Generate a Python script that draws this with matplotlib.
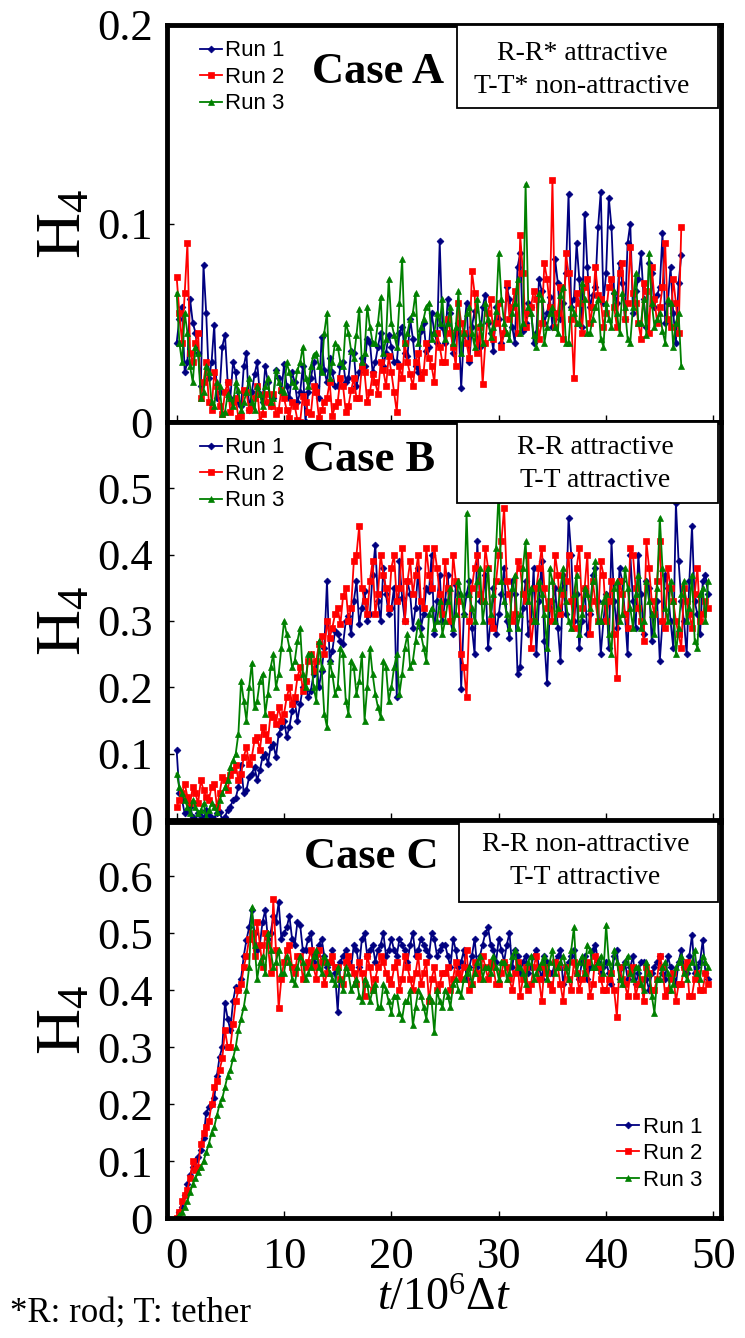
import matplotlib
matplotlib.use("Agg")
import matplotlib.pyplot as plt
import numpy as np
from matplotlib.patches import Rectangle
from matplotlib.ticker import FuncFormatter, FixedLocator

# ---------------- data ----------------
time_step = 0.5  # sampling interval of the main samples, in 10^6 dt
# main samples at t = 0, 0.5, 1.0 ...; "mid" samples at t = 0.25, 0.75, ...

case_a_run1 = [0.040, 0.058, 0.030, 0.050, 0.035, 0.079, 0.022, 0.049, 0.015, 0.044,
               0.012, 0.025, 0.008, 0.035, 0.015, 0.030, 0.010, 0.020, 0.012, 0.022,
               0.029, 0.012, 0.020, 0.015, 0.000, 0.022, 0.018, 0.043, 0.020, 0.025,
               0.018, 0.030, 0.022, 0.035, 0.025, 0.028, 0.040, 0.030, 0.045, 0.035,
               0.038, 0.030, 0.048, 0.033, 0.042, 0.025, 0.050, 0.038, 0.045, 0.091,
               0.040, 0.055, 0.045, 0.017, 0.060, 0.048, 0.042, 0.058, 0.050, 0.036,
               0.052, 0.045, 0.062, 0.040, 0.085, 0.050, 0.058, 0.045, 0.066, 0.055,
               0.048, 0.070, 0.060, 0.115, 0.062, 0.072, 0.105, 0.058, 0.068, 0.116,
               0.075, 0.098, 0.060, 0.070, 0.090, 0.055, 0.072, 0.062, 0.080, 0.058,
               0.068, 0.050, 0.078, 0.040, 0.084]
case_a_run1_mid = [0.052, 0.025, 0.062, 0.045, 0.018, 0.055, 0.030, 0.012, 0.038, 0.020,
                   0.030, 0.010, 0.028, 0.006, 0.024, 0.014, 0.028, 0.008, 0.026, 0.015,
                   0.018, 0.025, 0.010, 0.028, 0.015, 0.030, 0.012, 0.026, 0.032, 0.018,
                   0.028, 0.020, 0.036, 0.018, 0.032, 0.042, 0.025, 0.038, 0.028, 0.044,
                   0.030, 0.045, 0.035, 0.052, 0.028, 0.046, 0.036, 0.055, 0.040, 0.048,
                   0.062, 0.035, 0.050, 0.044, 0.030, 0.056, 0.038, 0.064, 0.045, 0.058,
                   0.040, 0.068, 0.048, 0.078, 0.046, 0.060, 0.040, 0.072, 0.050, 0.063,
                   0.082, 0.052, 0.075, 0.058, 0.090, 0.048, 0.078, 0.064, 0.098, 0.060,
                   0.113, 0.065, 0.080, 0.052, 0.100, 0.066, 0.085, 0.048, 0.075, 0.064,
                   0.095, 0.060, 0.055, 0.070]
case_a_run2 = [0.073, 0.040, 0.090, 0.030, 0.045, 0.020, 0.010, 0.025, 0.008, 0.015,
               0.005, 0.012, 0.003, 0.015, 0.008, 0.018, 0.004, 0.010, 0.014, 0.006,
               0.012, 0.002, 0.008, 0.000, 0.010, 0.004, 0.015, 0.006, 0.012, 0.003,
               0.010, 0.018, 0.008, 0.022, 0.012, 0.025, 0.015, 0.020, 0.030, 0.018,
               0.025, 0.005, 0.022, 0.030, 0.018, 0.035, 0.025, 0.032, 0.020, 0.038,
               0.030, 0.045, 0.028, 0.050, 0.040, 0.076, 0.035, 0.019, 0.055, 0.042,
               0.060, 0.045, 0.052, 0.066, 0.094, 0.048, 0.058, 0.062, 0.050, 0.072,
               0.122, 0.055, 0.042, 0.075, 0.022, 0.060, 0.068, 0.050, 0.078, 0.062,
               0.055, 0.072, 0.048, 0.080, 0.060, 0.065, 0.050, 0.070, 0.045, 0.062,
               0.058, 0.090, 0.048, 0.060, 0.098]
case_a_run2_mid = [0.055, 0.065, 0.035, 0.040, 0.012, 0.030, 0.006, 0.018, 0.004, 0.020,
                   0.010, 0.002, 0.016, 0.006, 0.012, 0.000, 0.014, 0.008, 0.004, 0.016,
                   0.006, 0.010, 0.001, 0.013, 0.005, 0.018, 0.002, 0.010, 0.020, 0.008,
                   0.022, 0.005, 0.016, 0.012, 0.028, 0.010, 0.024, 0.014, 0.026, 0.033,
                   0.015, 0.028, 0.040, 0.024, 0.030, 0.022, 0.040, 0.028, 0.045, 0.030,
                   0.052, 0.038, 0.060, 0.045, 0.032, 0.065, 0.048, 0.040, 0.062, 0.050,
                   0.038, 0.070, 0.058, 0.045, 0.075, 0.055, 0.066, 0.042, 0.080, 0.058,
                   0.048, 0.068, 0.085, 0.052, 0.065, 0.045, 0.072, 0.058, 0.064, 0.048,
                   0.068, 0.058, 0.075, 0.052, 0.088, 0.060, 0.042, 0.066, 0.078, 0.050,
                   0.068, 0.052, 0.072, 0.045]
case_a_run3 = [0.065, 0.030, 0.045, 0.020, 0.035, 0.015, 0.025, 0.008, 0.018, 0.005,
               0.012, 0.020, 0.006, 0.015, 0.010, 0.018, 0.008, 0.022, 0.012, 0.020,
               0.015, 0.025, 0.018, 0.030, 0.022, 0.028, 0.035, 0.025, 0.055, 0.030,
               0.038, 0.028, 0.045, 0.032, 0.057, 0.035, 0.048, 0.040, 0.063, 0.042,
               0.050, 0.038, 0.082, 0.045, 0.055, 0.040, 0.052, 0.060, 0.045, 0.050,
               0.042, 0.058, 0.048, 0.035, 0.055, 0.045, 0.062, 0.040, 0.052, 0.048,
               0.085, 0.050, 0.042, 0.060, 0.045, 0.120, 0.055, 0.038, 0.062, 0.048,
               0.058, 0.045, 0.068, 0.040, 0.055, 0.050, 0.062, 0.045, 0.058, 0.042,
               0.060, 0.048, 0.055, 0.065, 0.042, 0.058, 0.050, 0.062, 0.085, 0.048,
               0.055, 0.040, 0.060, 0.050, 0.028]
case_a_run3_mid = [0.040, 0.055, 0.028, 0.038, 0.012, 0.028, 0.010, 0.020, 0.004, 0.014,
                   0.008, 0.016, 0.010, 0.022, 0.006, 0.014, 0.018, 0.010, 0.026, 0.016,
                   0.030, 0.020, 0.026, 0.038, 0.018, 0.034, 0.028, 0.045, 0.022, 0.040,
                   0.030, 0.050, 0.036, 0.044, 0.030, 0.058, 0.040, 0.050, 0.035, 0.072,
                   0.044, 0.060, 0.040, 0.052, 0.065, 0.048, 0.058, 0.042, 0.055, 0.062,
                   0.050, 0.040, 0.066, 0.045, 0.058, 0.038, 0.050, 0.060, 0.043, 0.056,
                   0.062, 0.045, 0.055, 0.072, 0.050, 0.058, 0.044, 0.065, 0.040, 0.055,
                   0.048, 0.064, 0.040, 0.058, 0.050, 0.070, 0.045, 0.052, 0.062, 0.038,
                   0.052, 0.066, 0.045, 0.058, 0.040, 0.075, 0.050, 0.044, 0.060, 0.052,
                   0.046, 0.062, 0.038, 0.055]

case_b_run1 = [0.105, 0.030, 0.015, 0.005, 0.010, 0.000, 0.008, 0.002, 0.012, 0.005,
               0.020, 0.033, 0.083, 0.045, 0.070, 0.060, 0.095, 0.085, 0.114, 0.130,
               0.150, 0.140, 0.180, 0.175, 0.210, 0.195, 0.240, 0.225, 0.360, 0.255,
               0.280, 0.265, 0.307, 0.330, 0.295, 0.345, 0.310, 0.415, 0.300, 0.340,
               0.320, 0.185, 0.335, 0.360, 0.290, 0.380, 0.310, 0.345, 0.280, 0.370,
               0.330, 0.300, 0.355, 0.198, 0.340, 0.290, 0.420, 0.330, 0.260, 0.350,
               0.310, 0.380, 0.275, 0.340, 0.230, 0.360, 0.300, 0.250, 0.390, 0.206,
               0.330, 0.290, 0.370, 0.456, 0.300, 0.260, 0.350, 0.310, 0.380, 0.250,
               0.340, 0.420, 0.290, 0.360, 0.250, 0.330, 0.400, 0.280, 0.350, 0.310,
               0.240, 0.370, 0.300, 0.478, 0.330, 0.250, 0.443, 0.310, 0.360, 0.340]
case_b_run1_mid = [0.040, 0.010, 0.020, 0.000, 0.006, 0.015, 0.003, 0.010, 0.000, 0.015,
                   0.030, 0.050, 0.040, 0.065, 0.080, 0.075, 0.100, 0.110, 0.095, 0.140,
                   0.125, 0.165, 0.150, 0.200, 0.185, 0.220, 0.200, 0.260, 0.240, 0.285,
                   0.270, 0.300, 0.280, 0.360, 0.320, 0.300, 0.370, 0.330, 0.380, 0.310,
                   0.350, 0.390, 0.300, 0.340, 0.320, 0.290, 0.350, 0.400, 0.330, 0.300,
                   0.370, 0.280, 0.340, 0.310, 0.360, 0.250, 0.330, 0.370, 0.300, 0.280,
                   0.340, 0.300, 0.360, 0.220, 0.320, 0.280, 0.380, 0.330, 0.270, 0.320,
                   0.350, 0.240, 0.310, 0.400, 0.340, 0.300, 0.280, 0.370, 0.330, 0.300,
                   0.260, 0.330, 0.380, 0.310, 0.400, 0.290, 0.340, 0.360, 0.270, 0.330,
                   0.300, 0.350, 0.260, 0.390, 0.300, 0.360, 0.330, 0.280, 0.370]
case_b_run2 = [0.020, 0.040, 0.035, 0.050, 0.025, 0.045, 0.030, 0.055, 0.040, 0.060,
               0.068, 0.083, 0.070, 0.110, 0.095, 0.125, 0.140, 0.120, 0.155, 0.170,
               0.160, 0.200, 0.185, 0.230, 0.210, 0.250, 0.240, 0.277, 0.300, 0.290,
               0.320, 0.338, 0.300, 0.390, 0.443, 0.330, 0.360, 0.310, 0.400, 0.350,
               0.380, 0.330, 0.410, 0.360, 0.340, 0.400, 0.320, 0.370, 0.410, 0.340,
               0.390, 0.300, 0.360, 0.250, 0.185, 0.350, 0.400, 0.330, 0.380, 0.290,
               0.400, 0.471, 0.340, 0.310, 0.380, 0.330, 0.260, 0.350, 0.410, 0.320,
               0.300, 0.370, 0.340, 0.400, 0.290, 0.410, 0.350, 0.280, 0.330, 0.390,
               0.300, 0.360, 0.214, 0.340, 0.290, 0.400, 0.320, 0.270, 0.380, 0.310,
               0.420, 0.290, 0.350, 0.300, 0.260, 0.330, 0.290, 0.380, 0.310, 0.320]
case_b_run2_mid = [0.030, 0.055, 0.025, 0.040, 0.060, 0.035, 0.050, 0.020, 0.065, 0.045,
                   0.075, 0.060, 0.095, 0.085, 0.120, 0.105, 0.130, 0.160, 0.145, 0.150,
                   0.185, 0.175, 0.215, 0.195, 0.240, 0.225, 0.265, 0.250, 0.275, 0.310,
                   0.295, 0.350, 0.320, 0.400, 0.350, 0.310, 0.390, 0.340, 0.370, 0.320,
                   0.400, 0.350, 0.300, 0.390, 0.370, 0.330, 0.410, 0.350, 0.380, 0.310,
                   0.350, 0.400, 0.330, 0.230, 0.300, 0.380, 0.340, 0.410, 0.300, 0.360,
                   0.420, 0.360, 0.300, 0.390, 0.340, 0.400, 0.300, 0.380, 0.350, 0.330,
                   0.400, 0.310, 0.360, 0.330, 0.380, 0.320, 0.400, 0.360, 0.300, 0.370,
                   0.330, 0.280, 0.360, 0.310, 0.410, 0.350, 0.300, 0.420, 0.330, 0.360,
                   0.300, 0.380, 0.330, 0.280, 0.350, 0.310, 0.340, 0.300, 0.330]
case_b_run3 = [0.070, 0.040, 0.020, 0.030, 0.010, 0.025, 0.015, 0.020, 0.030, 0.050,
               0.080, 0.100, 0.210, 0.150, 0.237, 0.180, 0.220, 0.190, 0.250, 0.220,
               0.300, 0.260, 0.240, 0.290, 0.200, 0.250, 0.180, 0.230, 0.140, 0.220,
               0.200, 0.250, 0.160, 0.230, 0.210, 0.150, 0.260, 0.190, 0.155, 0.230,
               0.200, 0.250, 0.220, 0.280, 0.240, 0.300, 0.260, 0.310, 0.290, 0.330,
               0.300, 0.350, 0.310, 0.340, 0.463, 0.320, 0.360, 0.300, 0.380, 0.340,
               0.499, 0.330, 0.290, 0.370, 0.310, 0.420, 0.350, 0.300, 0.340, 0.260,
               0.360, 0.320, 0.380, 0.300, 0.340, 0.280, 0.350, 0.320, 0.390, 0.300,
               0.340, 0.250, 0.360, 0.310, 0.350, 0.290, 0.370, 0.300, 0.330, 0.280,
               0.456, 0.320, 0.360, 0.250, 0.340, 0.300, 0.370, 0.260, 0.350, 0.360]
case_b_run3_mid = [0.050, 0.030, 0.010, 0.020, 0.015, 0.005, 0.025, 0.012, 0.040, 0.060,
                   0.090, 0.130, 0.180, 0.200, 0.170, 0.210, 0.160, 0.230, 0.200, 0.260,
                   0.280, 0.230, 0.270, 0.220, 0.250, 0.200, 0.270, 0.160, 0.240, 0.190,
                   0.260, 0.180, 0.240, 0.190, 0.250, 0.200, 0.220, 0.170, 0.240, 0.180,
                   0.230, 0.190, 0.260, 0.230, 0.270, 0.280, 0.240, 0.320, 0.300, 0.280,
                   0.330, 0.290, 0.360, 0.310, 0.340, 0.300, 0.380, 0.330, 0.310, 0.410,
                   0.360, 0.310, 0.350, 0.290, 0.380, 0.330, 0.300, 0.360, 0.310, 0.380,
                   0.300, 0.350, 0.330, 0.290, 0.370, 0.310, 0.340, 0.360, 0.300, 0.330,
                   0.280, 0.350, 0.300, 0.380, 0.320, 0.340, 0.290, 0.360, 0.310, 0.350,
                   0.380, 0.300, 0.330, 0.290, 0.360, 0.320, 0.270, 0.340, 0.300]

case_c_run1 = [0.000, 0.020, 0.060, 0.090, 0.107, 0.140, 0.195, 0.210, 0.283, 0.377,
               0.330, 0.406, 0.420, 0.488, 0.540, 0.470, 0.520, 0.490, 0.530, 0.554,
               0.500, 0.530, 0.480, 0.515, 0.470, 0.500, 0.460, 0.490, 0.440, 0.470,
               0.362, 0.460, 0.450, 0.480, 0.440, 0.500, 0.470, 0.450, 0.480, 0.460,
               0.490, 0.460, 0.480, 0.450, 0.500, 0.470, 0.480, 0.460, 0.490, 0.470,
               0.480, 0.440, 0.470, 0.450, 0.420, 0.460, 0.440, 0.480, 0.510, 0.470,
               0.490, 0.450, 0.500, 0.470, 0.430, 0.460, 0.440, 0.470, 0.420, 0.450,
               0.430, 0.460, 0.410, 0.450, 0.470, 0.420, 0.460, 0.440, 0.480, 0.430,
               0.450, 0.410, 0.470, 0.440, 0.420, 0.460, 0.430, 0.450, 0.400, 0.440,
               0.460, 0.420, 0.440, 0.410, 0.470, 0.430, 0.497, 0.440, 0.488, 0.420]
case_c_run1_mid = [0.010, 0.040, 0.075, 0.100, 0.120, 0.185, 0.200, 0.250, 0.300, 0.350,
                   0.380, 0.400, 0.460, 0.510, 0.500, 0.480, 0.540, 0.500, 0.520, 0.490,
                   0.510, 0.490, 0.520, 0.470, 0.490, 0.450, 0.480, 0.460, 0.450, 0.430,
                   0.450, 0.470, 0.440, 0.470, 0.490, 0.460, 0.480, 0.470, 0.500, 0.470,
                   0.470, 0.490, 0.470, 0.480, 0.460, 0.490, 0.470, 0.500, 0.460, 0.480,
                   0.460, 0.490, 0.440, 0.470, 0.440, 0.490, 0.460, 0.500, 0.480, 0.450,
                   0.470, 0.480, 0.440, 0.460, 0.450, 0.430, 0.460, 0.440, 0.460, 0.430,
                   0.450, 0.470, 0.440, 0.460, 0.430, 0.450, 0.420, 0.470, 0.450, 0.440,
                   0.430, 0.460, 0.420, 0.450, 0.440, 0.410, 0.450, 0.420, 0.430, 0.450,
                   0.430, 0.460, 0.420, 0.450, 0.440, 0.460, 0.430, 0.450, 0.430]
case_c_run2 = [0.000, 0.030, 0.050, 0.100, 0.090, 0.150, 0.170, 0.230, 0.260, 0.330,
               0.300, 0.380, 0.410, 0.460, 0.500, 0.520, 0.440, 0.480, 0.559, 0.368,
               0.450, 0.480, 0.430, 0.460, 0.440, 0.470, 0.420, 0.450, 0.430, 0.460,
               0.440, 0.410, 0.460, 0.430, 0.450, 0.390, 0.440, 0.420, 0.460, 0.430,
               0.410, 0.450, 0.420, 0.440, 0.400, 0.460, 0.430, 0.380, 0.440, 0.410,
               0.430, 0.400, 0.450, 0.420, 0.470, 0.410, 0.430, 0.460, 0.420, 0.440,
               0.410, 0.450, 0.420, 0.430, 0.390, 0.440, 0.410, 0.460, 0.380, 0.430,
               0.400, 0.440, 0.380, 0.420, 0.450, 0.400, 0.430, 0.390, 0.460, 0.420,
               0.400, 0.430, 0.353, 0.420, 0.390, 0.440, 0.410, 0.380, 0.430, 0.400,
               0.460, 0.390, 0.420, 0.380, 0.410, 0.450, 0.390, 0.430, 0.400, 0.410]
case_c_run2_mid = [0.010, 0.040, 0.070, 0.085, 0.130, 0.160, 0.200, 0.240, 0.280, 0.300,
                   0.340, 0.400, 0.440, 0.490, 0.460, 0.480, 0.500, 0.430, 0.470, 0.420,
                   0.470, 0.440, 0.460, 0.420, 0.450, 0.440, 0.470, 0.410, 0.450, 0.440,
                   0.420, 0.450, 0.440, 0.410, 0.430, 0.460, 0.400, 0.440, 0.450, 0.420,
                   0.440, 0.400, 0.460, 0.420, 0.430, 0.410, 0.450, 0.420, 0.400, 0.430,
                   0.440, 0.420, 0.430, 0.440, 0.400, 0.450, 0.420, 0.440, 0.450, 0.410,
                   0.430, 0.440, 0.400, 0.450, 0.420, 0.400, 0.440, 0.420, 0.440, 0.410,
                   0.450, 0.410, 0.440, 0.400, 0.430, 0.420, 0.450, 0.410, 0.440, 0.400,
                   0.420, 0.400, 0.440, 0.410, 0.430, 0.390, 0.420, 0.440, 0.400, 0.420,
                   0.440, 0.400, 0.430, 0.410, 0.440, 0.390, 0.420, 0.400, 0.430]
case_c_run3 = [0.000, 0.010, 0.030, 0.060, 0.080, 0.100, 0.130, 0.160, 0.200, 0.230,
               0.260, 0.300, 0.350, 0.400, 0.546, 0.420, 0.460, 0.500, 0.440, 0.470,
               0.430, 0.450, 0.410, 0.460, 0.420, 0.440, 0.470, 0.430, 0.450, 0.420,
               0.440, 0.400, 0.430, 0.410, 0.390, 0.420, 0.380, 0.410, 0.370, 0.400,
               0.360, 0.390, 0.350, 0.380, 0.338, 0.400, 0.370, 0.390, 0.326, 0.380,
               0.400, 0.370, 0.420, 0.390, 0.430, 0.410, 0.450, 0.420, 0.440, 0.460,
               0.420, 0.450, 0.430, 0.470, 0.440, 0.410, 0.460, 0.430, 0.450, 0.420,
               0.470, 0.440, 0.460, 0.420, 0.510, 0.450, 0.430, 0.470, 0.440, 0.460,
               0.515, 0.430, 0.450, 0.410, 0.460, 0.420, 0.440, 0.400, 0.430, 0.360,
               0.420, 0.450, 0.400, 0.440, 0.460, 0.420, 0.450, 0.430, 0.460, 0.440]
case_c_run3_mid = [0.005, 0.020, 0.045, 0.070, 0.090, 0.115, 0.150, 0.180, 0.210, 0.250,
                   0.280, 0.330, 0.370, 0.440, 0.480, 0.450, 0.430, 0.470, 0.450, 0.430,
                   0.460, 0.420, 0.440, 0.450, 0.430, 0.460, 0.440, 0.460, 0.430, 0.410,
                   0.420, 0.440, 0.400, 0.420, 0.380, 0.410, 0.400, 0.370, 0.410, 0.380,
                   0.390, 0.360, 0.380, 0.400, 0.370, 0.390, 0.350, 0.380, 0.400, 0.370,
                   0.390, 0.410, 0.400, 0.420, 0.440, 0.430, 0.460, 0.440, 0.430, 0.440,
                   0.450, 0.420, 0.460, 0.440, 0.430, 0.450, 0.420, 0.440, 0.460, 0.450,
                   0.430, 0.450, 0.440, 0.470, 0.430, 0.460, 0.480, 0.440, 0.450, 0.430,
                   0.450, 0.470, 0.420, 0.450, 0.430, 0.440, 0.410, 0.450, 0.390, 0.420,
                   0.440, 0.430, 0.410, 0.450, 0.430, 0.440, 0.470, 0.420, 0.450]

run_labels = ["Run 1", "Run 2", "Run 3"]
case_titles = ["Case A", "Case B", "Case C"]
box_texts = [["R-R* attractive", "T-T* non-attractive"],
             ["R-R attractive", "T-T attractive"],
             ["R-R non-attractive", "T-T attractive"]]
y_limits = [0.2, 0.6, 0.695]
y_ticks = [[0, 0.1, 0.2],
           [0, 0.1, 0.2, 0.3, 0.4, 0.5],
           [0, 0.1, 0.2, 0.3, 0.4, 0.5, 0.6]]
x_ticks = [0, 10, 20, 30, 40, 50]

# ---------------- styling ----------------
plt.rcParams["font.family"] = ["Liberation Serif", "DejaVu Serif"]
plt.rcParams["mathtext.fontset"] = "custom"
plt.rcParams["mathtext.rm"] = "Liberation Serif"
plt.rcParams["mathtext.it"] = "Liberation Serif:italic"
plt.rcParams["mathtext.bf"] = "Liberation Serif:bold"

colors = ["#000080", "#ff0000", "#008000"]
markers = ["D", "s", "^"]
msizes = [3.5, 4.2, 4.4]

W, H = 745, 1338
fig = plt.figure(figsize=(W / 100, H / 100), dpi=100)

left = 167 / W
width = (721 - 167) / W
panel_px = [(25, 422), (422, 820), (822, 1218)]

all_data = [[(case_a_run1, case_a_run1_mid), (case_a_run2, case_a_run2_mid), (case_a_run3, case_a_run3_mid)],
            [(case_b_run1, case_b_run1_mid), (case_b_run2, case_b_run2_mid), (case_b_run3, case_b_run3_mid)],
            [(case_c_run1, case_c_run1_mid), (case_c_run2, case_c_run2_mid), (case_c_run3, case_c_run3_mid)]]

title_pos = [(0.381, 0.882), (0.365, 0.905), (0.368, 0.912)]
box_bottom = [0.791, 0.796, 0.798]
box_left = [0.523, 0.523, 0.527]
line_y = [(0.929, 0.844), (0.937, 0.854), (0.942, 0.859)]
text_x = [0.749, 0.773, 0.755]

fmt = FuncFormatter(lambda v, p: f"{v:g}")

for i in range(3):
    top_px, bot_px = panel_px[i]
    ax = fig.add_axes([left, 1 - bot_px / H, width, (bot_px - top_px) / H])
    ax.set_xlim(-0.9, 50.7)
    ax.set_ylim(0, y_limits[i])
    for j in range(3):
        main, mid = all_data[i][j]
        t_main = np.arange(len(main)) * time_step
        t_mid = np.arange(len(mid)) * time_step + time_step / 2
        t = np.concatenate([t_main, t_mid])
        v = np.concatenate([np.asarray(main), np.asarray(mid)])
        order = np.argsort(t)
        ax.plot(t[order], v[order], color=colors[j], marker=markers[j], markersize=msizes[j],
                linewidth=1.3, markeredgewidth=0.5, label=run_labels[j])
    for s in ax.spines.values():
        s.set_linewidth(3.5)
    ax.yaxis.set_major_locator(FixedLocator(y_ticks[i]))
    ax.yaxis.set_major_formatter(fmt)
    ax.xaxis.set_major_locator(FixedLocator(x_ticks))
    ax.tick_params(direction="in", length=5, width=1, labelsize=32, pad=10)
    ax.tick_params(axis="x", pad=14)
    if i < 2:
        ax.tick_params(axis="x", labelbottom=False)
    else:
        ax.xaxis.set_major_formatter(fmt)
        ax.set_xlabel(r"$t/10^{6}\Delta t$", fontsize=33, labelpad=0)
    ax.set_ylabel(r"$\mathrm{H}_{4}$", fontsize=46, labelpad=2)

    ax.text(title_pos[i][0], title_pos[i][1], case_titles[i], transform=ax.transAxes,
            fontsize=32, fontweight="bold", ha="center", va="center")
    rect = Rectangle((box_left[i], box_bottom[i]), 0.995 - box_left[i], 1.0 - box_bottom[i],
                     transform=ax.transAxes, fill=True, facecolor="white",
                     edgecolor="black", linewidth=1.3, zorder=5)
    ax.add_patch(rect)
    ax.text(text_x[i], line_y[i][0], box_texts[i][0], transform=ax.transAxes,
            fontsize=20, ha="center", va="center", zorder=6)
    ax.text(text_x[i], line_y[i][1], box_texts[i][1], transform=ax.transAxes,
            fontsize=20, ha="center", va="center", zorder=6)

    leg_kw = dict(frameon=False, prop={"family": "Liberation Sans", "size": 16},
                  numpoints=1, handlelength=1.0, handletextpad=0.15,
                  labelspacing=0.25, borderaxespad=0.2)
    if i < 2:
        leg = ax.legend(loc="upper left", bbox_to_anchor=(0.035, 0.995), **leg_kw)
    else:
        leg = ax.legend(loc="lower right", bbox_to_anchor=(0.99, 0.035), **leg_kw)
    leg.set_zorder(7)

fig.text(10 / W, 1 - 1313 / H, "*R: rod; T: tether", fontsize=25, ha="left", va="center")

fig.savefig("out.png", dpi=100)
